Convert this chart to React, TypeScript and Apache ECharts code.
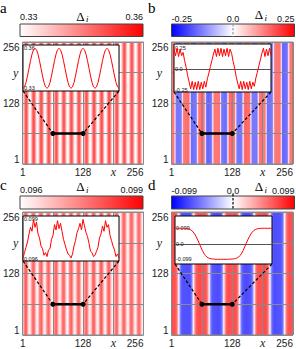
import React, { useEffect, useRef } from 'react';
import * as echarts from 'echarts';

// ---------------- data ----------------
const tickValues = [0, 64, 128, 192, 256];
const tickLabels = ['1', '', '128', '', '256'];
const segment = [[64, 64], [128, 64]];
const insetStart = 64;

// order parameter along the inset window x = 64 ... 128 (65 sites)
const aValues = [
  0.3300, 0.3311, 0.3344, 0.3393, 0.3450, 0.3507, 0.3556, 0.3589, 0.3600, 0.3589, 0.3556, 0.3507, 0.3450, 0.3393, 0.3344, 0.3311,
  0.3300, 0.3311, 0.3344, 0.3393, 0.3450, 0.3507, 0.3556, 0.3589, 0.3600, 0.3589, 0.3556, 0.3507, 0.3450, 0.3393, 0.3344, 0.3311,
  0.3300, 0.3311, 0.3344, 0.3393, 0.3450, 0.3507, 0.3556, 0.3589, 0.3600, 0.3589, 0.3556, 0.3507, 0.3450, 0.3393, 0.3344, 0.3311,
  0.3300, 0.3311, 0.3344, 0.3393, 0.3450, 0.3507, 0.3556, 0.3589, 0.3600, 0.3589, 0.3556, 0.3507, 0.3450, 0.3393, 0.3344, 0.3311,
  0.3300,
];
const bValues = [
  0.24, 0.16, 0.25, 0.15, 0.24, 0.16, 0.20, 0.10, 0.02, -0.08, -0.16, -0.24, -0.15, -0.25, -0.16, -0.25,
  -0.15, -0.25, -0.16, -0.24, -0.15, -0.22, -0.12, -0.05, 0.03, 0.10, 0.18, 0.24, 0.15, 0.25, 0.16, 0.25,
  0.15, 0.24, 0.16, 0.25, 0.15, 0.24, 0.19, 0.09, 0.01, -0.09, -0.17, -0.24, -0.15, -0.25, -0.15, -0.24,
  -0.16, -0.25, -0.15, -0.24, -0.16, -0.21, -0.11, -0.04, 0.04, 0.11, 0.19, 0.25, 0.15, 0.24, 0.16, 0.25,
  0.16,
];
const cValues = [
  0.0961, 0.0965, 0.0969, 0.0973, 0.0979, 0.0984, 0.0981, 0.0990, 0.0984, 0.0988, 0.0979, 0.0976, 0.0970, 0.0968, 0.0963, 0.0965,
  0.0962, 0.0967, 0.0968, 0.0975, 0.0978, 0.0986, 0.0982, 0.0989, 0.0983, 0.0987, 0.0981, 0.0975, 0.0971, 0.0967, 0.0964, 0.0963,
  0.0961, 0.0964, 0.0970, 0.0974, 0.0980, 0.0983, 0.0987, 0.0982, 0.0990, 0.0985, 0.0980, 0.0977, 0.0972, 0.0966, 0.0965, 0.0962,
  0.0963, 0.0966, 0.0969, 0.0976, 0.0979, 0.0985, 0.0981, 0.0989, 0.0984, 0.0986, 0.0978, 0.0974, 0.0970, 0.0967, 0.0962, 0.0964,
  0.0961,
];
const dValues = [
  0.099, 0.099, 0.099, 0.099, 0.099, 0.099, 0.099, 0.098, 0.097, 0.095, 0.091, 0.085, 0.075, 0.062, 0.045, 0.025,
  0.003, -0.020, -0.042, -0.060, -0.074, -0.084, -0.090, -0.094, -0.096, -0.097, -0.098, -0.099, -0.099, -0.099, -0.099, -0.099,
  -0.099, -0.099, -0.099, -0.099, -0.098, -0.098, -0.097, -0.096, -0.094, -0.090, -0.084, -0.074, -0.060, -0.042, -0.020, 0.003,
  0.025, 0.045, 0.062, 0.075, 0.085, 0.091, 0.095, 0.097, 0.098, 0.099, 0.099, 0.099, 0.099, 0.099, 0.099, 0.099,
  0.099,
];

const aRange = [0.33, 0.36];
const bRange = [-0.25, 0.25];
const cRange = [0.096, 0.099];
const dRange = [-0.099, 0.099];

const aBarLabels = ['0.33', '0.36'];
const bBarLabels = ['-0.25', '0.0', '0.25'];
const cBarLabels = ['0.096', '0.099'];
const dBarLabels = ['-0.099', '0.0', '0.099'];

const aInsetTicks = [0.33, 0.36];
const bInsetTicks = [-0.25, 0, 0.25];
const cInsetTicks = [0.096, 0.099];
const dInsetTicks = [-0.099, 0, 0.099];
const aInsetTickLabels = ['0.33', '0.36'];
const bInsetTickLabels = ['-0.25', '0.0', '0.25'];
const cInsetTickLabels = ['0.096', '0.099'];
const dInsetTickLabels = ['-0.099', '0.0', '0.099'];

// ---------------- layout / style ----------------
const W = 296;
const H = 349;
const SANS = 'Liberation Sans, Arial, Helvetica, sans-serif';
const SERIF = 'Liberation Serif, Times New Roman, serif';
const WHITE_RED = ['#ffffff', '#ff0000'];
const BLUE_WHITE_RED = ['#0000ff', '#ffffff', '#ff0000'];

type Panel = {
  letter: string; values: number[]; range: number[]; colors: string[];
  barLabels: string[]; insetTicks: number[]; insetTickLabels: string[];
  insetY: number[]; zeroLine: boolean; zeroDash: string | null;
  heat: { left: number; top: number; width: number; height: number };
  bar: { x: number; y: number; w: number; h: number };
  inset: { left: number; top: number; width: number; height: number };
  labelY: number; deltaY: number; letterPos: number[];
};

const panels: Panel[] = [
  {
    letter: 'a', values: aValues, range: aRange, colors: WHITE_RED, barLabels: aBarLabels,
    insetTicks: aInsetTicks, insetTickLabels: aInsetTickLabels, insetY: [0.328, 0.3625], zeroLine: false, zeroDash: null,
    heat: { left: 20, top: 42, width: 123.5, height: 122 }, bar: { x: 20, y: 24, w: 123, h: 12.5 },
    inset: { left: 23, top: 45, width: 96, height: 46 }, labelY: 17, deltaY: 16, letterPos: [0, 8],
  },
  {
    letter: 'b', values: bValues, range: bRange, colors: BLUE_WHITE_RED, barLabels: bBarLabels,
    insetTicks: bInsetTicks, insetTickLabels: bInsetTickLabels, insetY: [-0.279, 0.302], zeroLine: true, zeroDash: '#9a9a9a',
    heat: { left: 171.5, top: 42, width: 123, height: 122 }, bar: { x: 171.5, y: 24, w: 123, h: 12.5 },
    inset: { left: 174, top: 44, width: 97, height: 48 }, labelY: 18.5, deltaY: 14.5, letterPos: [148, 8],
  },
  {
    letter: 'c', values: cValues, range: cRange, colors: WHITE_RED, barLabels: cBarLabels,
    insetTicks: cInsetTicks, insetTickLabels: cInsetTickLabels, insetY: [0.09587, 0.09925], zeroLine: false, zeroDash: null,
    heat: { left: 20, top: 212, width: 123.5, height: 123 }, bar: { x: 20, y: 196, w: 123, h: 13 },
    inset: { left: 23, top: 216, width: 96, height: 45 }, labelY: 190, deltaY: 186.5, letterPos: [0, 185],
  },
  {
    letter: 'd', values: dValues, range: dRange, colors: BLUE_WHITE_RED, barLabels: dBarLabels,
    insetTicks: dInsetTicks, insetTickLabels: dInsetTickLabels, insetY: [-0.129, 0.1775], zeroLine: true, zeroDash: '#000000',
    heat: { left: 171.5, top: 212, width: 123, height: 123 }, bar: { x: 171.5, y: 196, w: 123, h: 13 },
    inset: { left: 175, top: 216, width: 97, height: 48 }, labelY: 191, deltaY: 186.5, letterPos: [148, 185],
  },
];

// columns of the lattice: the pattern repeats with the 64-site window shown in the inset
function columns(values: number[]) {
  const out: number[][] = [];
  for (let s = 1; s <= 256; s++) {
    const k = (((s - insetStart) % 64) + 64) % 64;
    out.push([s, values[k]]);
  }
  return out;
}

function insetData(values: number[]) {
  return values.map((v, k) => [insetStart + k, v]);
}

const renderColumn = (_params: any, api: any) => {
  const s = api.value(0);
  const p0 = api.coord([s - 1, 256]);
  const p1 = api.coord([s, 0]);
  return {
    type: 'rect',
    shape: { x: p0[0], y: p0[1], width: p1[0] - p0[0], height: p1[1] - p0[1] },
    style: { fill: api.visual('color'), opacity: 0.92 },
  };
};

function tickFormatter(v: number) {
  const i = tickValues.indexOf(v);
  return i >= 0 ? tickLabels[i] : '';
}

function buildOption() {
  const grid: any[] = [];
  const xAxis: any[] = [];
  const yAxis: any[] = [];
  const series: any[] = [];
  const visualMap: any[] = [];

  panels.forEach((p, i) => {
    grid.push({ ...p.heat, show: true, borderColor: '#8a8a8a', borderWidth: 1, backgroundColor: 'transparent', z: 4 });
    xAxis.push({
      gridIndex: i, type: 'value', min: 0, max: 256, interval: 64, z: 3,
      axisLine: { show: false }, axisTick: { show: false },
      splitLine: { show: true, lineStyle: { color: '#8a8a8a', width: 1 } },
      axisLabel: {
        formatter: tickFormatter, fontSize: 10, color: '#222', margin: 3, fontFamily: SANS,
        alignMaxLabel: 'right', alignMinLabel: 'center',
      },
    });
    yAxis.push({
      gridIndex: i, type: 'value', min: 0, max: 256, interval: 64, z: 3,
      axisLine: { show: false }, axisTick: { show: false },
      splitLine: { show: true, lineStyle: { color: '#8a8a8a', width: 1 } },
      axisLabel: {
        formatter: tickFormatter, fontSize: 10, color: '#222', margin: 3, fontFamily: SANS,
        verticalAlignMaxLabel: 'top', verticalAlignMinLabel: 'bottom',
      },
    });
  });

  panels.forEach((p, i) => {
    grid.push({ ...p.inset, show: true, borderColor: '#000', borderWidth: 1, backgroundColor: '#ffffff', z: 5 });
    xAxis.push({ gridIndex: 4 + i, type: 'value', min: 64, max: 128, show: false });
    const ticks = p.insetTicks;
    const labs = p.insetTickLabels;
    yAxis.push({
      gridIndex: 4 + i, type: 'value', min: p.insetY[0], max: p.insetY[1], z: 6,
      axisLine: { show: false }, axisTick: { show: false }, splitLine: { show: false },
      axisLabel: {
        inside: true, margin: 1, fontSize: 5.5, color: '#111', fontFamily: SANS,
        customValues: ticks,
        formatter: (v: number) => {
          let best = 0;
          ticks.forEach((t, j) => { if (Math.abs(t - v) < Math.abs(ticks[best] - v)) best = j; });
          return labs[best];
        },
      },
    });
  });

  panels.forEach((p, i) => {
    series.push({
      type: 'custom', xAxisIndex: i, yAxisIndex: i, z: 1, silent: true,
      renderItem: renderColumn, data: columns(p.values), encode: { x: 0, y: 1 },
    });
    visualMap.push({
      type: 'continuous', show: false, seriesIndex: i, dimension: 1,
      min: p.range[0], max: p.range[1], inRange: { color: p.colors },
    });
  });

  panels.forEach((p, i) => {
    series.push({
      type: 'line', xAxisIndex: 4 + i, yAxisIndex: 4 + i, z: 7, silent: true,
      data: insetData(p.values), showSymbol: false, symbol: 'none',
      lineStyle: { color: '#ff0000', width: 1 },
      markLine: p.zeroLine ? {
        silent: true, symbol: 'none', label: { show: false },
        lineStyle: { color: '#555', width: 1, type: 'solid' },
        data: [{ yAxis: 0 }],
      } : undefined,
    });
  });

  panels.forEach((_p, i) => {
    series.push({
      type: 'line', xAxisIndex: i, yAxisIndex: i, z: 8, silent: true,
      data: segment, symbol: 'circle', symbolSize: 5, showSymbol: true,
      itemStyle: { color: '#000' }, lineStyle: { color: '#000', width: 2.5 },
    });
  });

  return {
    animation: false,
    backgroundColor: '#ffffff',
    grid, xAxis, yAxis, series, visualMap,
  };
}

function buildGraphics(chart: any) {
  const els: any[] = [];
  panels.forEach((p, i) => {
    // panel letter
    els.push({
      type: 'text', x: p.letterPos[0], y: p.letterPos[1], z: 20,
      style: { text: p.letter, fontSize: 15, fontFamily: SERIF, fill: '#000', align: 'left', verticalAlign: 'middle' },
    });
    // colour bar
    const b = p.bar;
    const stops = p.colors.map((c, k) => ({ offset: k / (p.colors.length - 1), color: c }));
    els.push({
      type: 'rect', z: 20,
      shape: { x: b.x, y: b.y, width: b.w, height: b.h },
      style: { fill: new echarts.graphic.LinearGradient(0, 0, 1, 0, stops), stroke: '#444', lineWidth: 1 },
    });
    if (p.zeroDash) {
      const cx = b.x + b.w / 2;
      els.push({
        type: 'line', z: 21,
        shape: { x1: cx, y1: b.y - (p.zeroDash === '#000000' ? 2 : 0), x2: cx, y2: b.y + b.h },
        style: { stroke: p.zeroDash, lineWidth: 1.2, lineDash: [2.5, 1.5] },
      });
    }
    // colour bar labels
    const labs = p.barLabels;
    els.push({
      type: 'text', x: b.x, y: p.labelY, z: 20,
      style: { text: labs[0], fontSize: 9, fontFamily: SANS, fill: '#111', align: 'left', verticalAlign: 'middle' },
    });
    els.push({
      type: 'text', x: b.x + b.w, y: p.labelY, z: 20,
      style: { text: labs[labs.length - 1], fontSize: 9, fontFamily: SANS, fill: '#111', align: 'right', verticalAlign: 'middle' },
    });
    let dx = b.x + b.w / 2 - 1;
    if (labs.length === 3) {
      els.push({
        type: 'text', x: b.x + b.w / 2, y: p.labelY, z: 20,
        style: { text: labs[1], fontSize: 9, fontFamily: SANS, fill: '#111', align: 'center', verticalAlign: 'middle' },
      });
      dx = b.x + b.w / 2 + 26;
    }
    els.push({
      type: 'text', x: dx, y: p.deltaY, z: 20,
      style: { text: 'Δ', fontSize: 13, fontFamily: SERIF, fill: '#000', align: 'center', verticalAlign: 'middle' },
    });
    els.push({
      type: 'text', x: dx + 5.5, y: p.deltaY + 3, z: 20,
      style: { text: 'i', fontSize: 9, fontFamily: SERIF, fontStyle: 'italic', fill: '#000', align: 'left', verticalAlign: 'middle' },
    });

    // axis names
    const xn = chart.convertToPixel({ gridIndex: i }, [192, 0]);
    const yn = chart.convertToPixel({ gridIndex: i }, [0, 192]);
    els.push({
      type: 'text', x: xn[0], y: xn[1] + 7.5, z: 20,
      style: { text: 'x', fontSize: 12, fontFamily: SERIF, fontStyle: 'italic', fill: '#222', align: 'center', verticalAlign: 'middle' },
    });
    els.push({
      type: 'text', x: yn[0] - (i % 2 === 0 ? 7 : 12), y: yn[1], z: 20,
      style: { text: 'y', fontSize: 12, fontFamily: SERIF, fontStyle: 'italic', fill: '#222', align: 'center', verticalAlign: 'middle' },
    });

    // dashed connectors from inset corners to the highlighted segment
    const L = chart.convertToPixel({ gridIndex: i }, segment[0]);
    const R = chart.convertToPixel({ gridIndex: i }, segment[1]);
    const bl = [p.inset.left, p.inset.top + p.inset.height];
    const br = [p.inset.left + p.inset.width, p.inset.top + p.inset.height];
    els.push({
      type: 'line', z: 7,
      shape: { x1: bl[0], y1: bl[1], x2: L[0], y2: L[1] },
      style: { stroke: '#000', lineWidth: 1.2, lineDash: [3, 2] },
    });
    els.push({
      type: 'line', z: 7,
      shape: { x1: br[0], y1: br[1], x2: R[0], y2: R[1] },
      style: { stroke: '#000', lineWidth: 1.2, lineDash: [3, 2] },
    });
  });
  return els;
}

export default function App() {
  const ref = useRef<HTMLDivElement>(null);
  useEffect(() => {
    if (!ref.current) return;
    const chart = echarts.init(ref.current, null, { renderer: 'svg' });
    chart.setOption(buildOption());
    chart.setOption({ graphic: { elements: buildGraphics(chart) } });
    return () => chart.dispose();
  }, []);
  return (
    <div
      ref={ref}
      style={{ position: 'fixed', left: 0, top: 0, width: W, height: H, background: '#fff' }}
    />
  );
}
